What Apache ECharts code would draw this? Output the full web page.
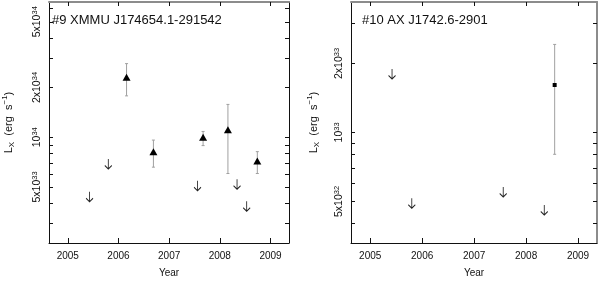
<!DOCTYPE html>
<html><head><meta charset="utf-8">
<script src="https://cdn.jsdelivr.net/npm/echarts@6/dist/echarts.min.js"></script>
<style>html,body{margin:0;padding:0;background:#fff}#c{width:600px;height:283px}</style>
</head><body><div id="c"></div>
<script>
// ---- Data (luminosities in erg/s) ----
const titles = ['#9 XMMU J174654.1-291542', '#10 AX J1742.6-2901'];
const yearTicks = [2005, 2006, 2007, 2008, 2009];

// Panel 1 detections (triangles)
const p1DetYear = [2006.16, 2006.69, 2007.67, 2008.16, 2008.74];
const p1DetL    = [2.31e34, 8.18e33, 1.00e34, 1.11e34, 7.18e33];
const p1DetLo   = [1.78e34, 6.59e33, 8.9e33, 6.03e33, 6.03e33];
const p1DetHi   = [2.79e34, 9.61e33, 1.084e34, 1.58e34, 8.18e33];
// Panel 1 upper limits
const p1UlYear  = [2005.43, 2005.80, 2007.56, 2008.34, 2008.53];
const p1UlL     = [4.36e33, 6.89e33, 5.09e33, 5.2e33, 3.82e33];

// Panel 2 detection (square)
const p2DetYear = [2008.55];
const p2DetL    = [1.61e33];
const p2DetLo   = [8.03e32];
const p2DetHi   = [2.42e33];
// Panel 2 upper limits
const p2UlYear  = [2005.42, 2005.80, 2007.56, 2008.35];
const p2UlL     = [1.80e33, 4.91e32, 5.5e32, 4.59e32];

// Axis ticks
const p1LabelVals = [5e33, 1e34, 2e34, 5e34];
const p1LabelTxt  = ['5x10{s|33}', '10{s|34}', '2x10{s|34}', '5x10{s|34}'];
const p1MinorVals = [3e33, 4e33, 5e33, 6e33, 7e33, 8e33, 9e33, 1e34, 2e34, 3e34, 4e34, 5e34, 6e34];
const p1Range = [2.29e33, 6.585e34];

const p2LabelVals = [5e32, 1e33, 2e33];
const p2LabelTxt  = ['5x10{s|32}', '10{s|33}', '2x10{s|33}'];
const p2MinorVals = [4e32, 5e32, 6e32, 7e32, 8e32, 9e32, 1e33, 2e33, 3e33];
const p2Range = [3.296e32, 3.705e33];

const xRange = [2004.63, 2009.365];

// ---- Build ----
const L = Math.log10;
const FONT = 'Liberation Sans, Arial, sans-serif';
const chart = echarts.init(document.getElementById('c'), null, {renderer: 'canvas'});

const grids = [
  {left: 42, right: 311, top: 2, bottom: 31},
  {left: 351, right: 3, top: 2, bottom: 31}
];
const grey = '#8c8c8c';
const richSup = {s: {fontSize: 7.5, verticalAlign: 'top', fontFamily: FONT, color: '#111', lineHeight: 8}};

function xAxes(gi) {
  return [
    {type: 'value', gridIndex: gi, min: xRange[0], max: xRange[1], position: 'bottom',
     name: 'Year', nameLocation: 'middle', nameGap: 25,
     nameTextStyle: {fontFamily: FONT, fontSize: 10, color: '#111'},
     axisLine: {lineStyle: {color: '#111', width: 1}},
     axisTick: {inside: true, length: 5, customValues: yearTicks, lineStyle: {color: '#111'}},
     axisLabel: {customValues: yearTicks, fontFamily: FONT, fontSize: 10, color: '#111', margin: 8,
                 formatter: v => String(Math.round(v))},
     splitLine: {show: false}},
    {type: 'value', gridIndex: gi, min: xRange[0], max: xRange[1], position: 'top',
     axisLine: {lineStyle: {color: grey, width: 2}},
     axisTick: {inside: true, length: 4, customValues: yearTicks, lineStyle: {color: '#111'}},
     axisLabel: {show: false}, splitLine: {show: false}}
  ];
}
function yAxes(gi, range, labVals, labTxt, minor, nameGap, rightColor, rightW) {
  return [
    {type: 'value', gridIndex: gi, min: L(range[0]), max: L(range[1]), position: 'left',
     name: 'L{sub|X}  (erg  s{sup|−1})', nameLocation: 'middle', nameRotate: 90, nameGap: nameGap,
     nameTextStyle: {fontFamily: FONT, fontSize: 11, color: '#111', lineHeight: 15,
       rich: {sub: {fontSize: 8, verticalAlign: 'bottom', lineHeight: 8, fontFamily: FONT, color: '#111'},
              sup: {fontSize: 8, verticalAlign: 'top', lineHeight: 8, fontFamily: FONT, color: '#111'}}},
     axisLine: {lineStyle: {color: '#111', width: 1}},
     axisTick: {inside: true, length: 4, customValues: minor.map(L), lineStyle: {color: '#111'}},
     axisLabel: {customValues: labVals.map(L), rotate: 90, margin: 5, fontFamily: FONT, fontSize: 10.5,
       color: '#111', lineHeight: 13, rich: richSup,
       formatter: v => { let best = 0; labVals.forEach((lv, i) => { if (Math.abs(L(lv) - v) < Math.abs(L(labVals[best]) - v)) best = i; }); return labTxt[best]; }},
     splitLine: {show: false}},
    {type: 'value', gridIndex: gi, min: L(range[0]), max: L(range[1]), position: 'right',
     axisLine: {lineStyle: {color: rightColor, width: rightW}},
     axisTick: {inside: true, length: 4, customValues: minor.map(L), lineStyle: {color: '#111'}},
     axisLabel: {show: false}, splitLine: {show: false}}
  ];
}

const arrowPath = 'path://M5 0 L5 10 M1.5 6.5 L5 10 L8.5 6.5';

function errSeries(xi, yi, years, lo, hi) {
  return {
    type: 'custom', xAxisIndex: xi, yAxisIndex: yi, z: 1,
    data: years.map((y, i) => [y, L(lo[i]), L(hi[i])]),
    encode: {x: 0, y: [1, 2]},
    renderItem: (params, api) => {
      const a = api.coord([api.value(0), api.value(1)]);
      const b = api.coord([api.value(0), api.value(2)]);
      const st = {stroke: '#a0a0a0', lineWidth: 1};
      return {type: 'group', children: [
        {type: 'line', shape: {x1: a[0], y1: a[1], x2: b[0], y2: b[1]}, style: st},
        {type: 'line', shape: {x1: a[0] - 1.5, y1: a[1], x2: a[0] + 1.5, y2: a[1]}, style: st},
        {type: 'line', shape: {x1: b[0] - 1.5, y1: b[1], x2: b[0] + 1.5, y2: b[1]}, style: st}
      ]};
    }
  };
}
function ulSeries(xi, yi, years, vals) {
  return {type: 'scatter', xAxisIndex: xi, yAxisIndex: yi, z: 3, symbol: arrowPath, symbolSize: [7, 10],
    itemStyle: {color: 'rgba(0,0,0,0)', borderColor: '#222', borderWidth: 1, opacity: 1},
    data: years.map((y, i) => [y, L(vals[i])]), silent: true};
}
function detSeries(xi, yi, years, vals, sym, size) {
  return {type: 'scatter', xAxisIndex: xi, yAxisIndex: yi, z: 4, symbol: sym, symbolSize: size,
    itemStyle: {color: '#000', opacity: 1}, data: years.map((y, i) => [y, L(vals[i])]), silent: true};
}

const option = {
  animation: false,
  backgroundColor: '#fff',
  title: [
    {text: titles[0], left: 47, top: 9, textStyle: {fontFamily: FONT, fontSize: 13, fontWeight: 'normal', color: '#111'}},
    {text: titles[1], left: 357, top: 9, textStyle: {fontFamily: FONT, fontSize: 13, fontWeight: 'normal', color: '#111'}}
  ],
  grid: grids,
  xAxis: [...xAxes(0), ...xAxes(1)],
  yAxis: [...yAxes(0, p1Range, p1LabelVals, p1LabelTxt, p1MinorVals, 33, '#111', 1),
          ...yAxes(1, p2Range, p2LabelVals, p2LabelTxt, p2MinorVals, 30, grey, 2)],
  series: [
    errSeries(0, 0, p1DetYear, p1DetLo, p1DetHi),
    detSeries(0, 0, p1DetYear, p1DetL, 'triangle', [8, 7]),
    ulSeries(0, 0, p1UlYear, p1UlL),
    errSeries(2, 2, p2DetYear, p2DetLo, p2DetHi),
    detSeries(2, 2, p2DetYear, p2DetL, 'rect', 4),
    ulSeries(2, 2, p2UlYear, p2UlL)
  ]
};
chart.setOption(option);
</script></body></html>
